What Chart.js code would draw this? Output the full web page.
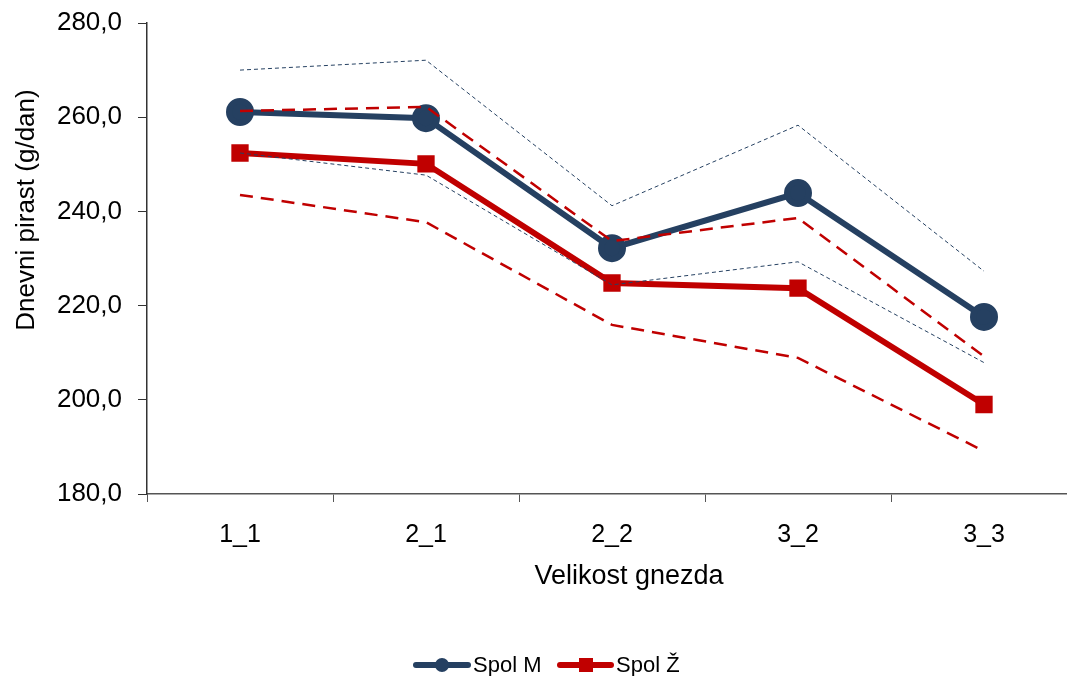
<!DOCTYPE html>
<html>
<head>
<meta charset="utf-8">
<script src="https://cdn.jsdelivr.net/npm/chart.js@4/dist/chart.umd.min.js"></script>
<style>
  html, body { margin: 0; padding: 0; background: #fff; overflow: hidden; }
  .wrap { width: 1067px; height: 676px; overflow: hidden; }
</style>
</head>
<body>
<div class="wrap">
  <canvas id="pirast" width="1080" height="676"></canvas>
</div>

<script>
// kategorije in vrednosti (odčitano s slike)
var categories = ["1_1", "2_1", "2_2", "3_2", "3_3"];
var spolM      = [261.1, 259.8, 232.2, 243.9, 217.6];
var spolMUpper = [270.0, 272.1, 241.2, 258.3, 227.3];
var spolMLower = [252.4, 247.7, 224.4, 229.3, 207.9];
var spolZ      = [252.4, 250.1, 224.8, 223.7, 199.0];
var spolZUpper = [261.3, 262.2, 233.7, 238.6, 209.2];
var spolZLower = [243.5, 237.7, 215.9, 208.9, 189.1];
var yTicks = [180, 200, 220, 240, 260, 280];

var navy = "#254061";
var red = "#C00000";
var font = "'Liberation Sans', Arial, sans-serif";

// naslovi osi in legenda
var extras = {
  id: 'extras',
  afterDraw: function(chart) {
    var c = chart.ctx;
    c.save();
    c.fillStyle = "#000";
    c.textAlign = "center";
    c.textBaseline = "middle";
    c.font = "27px " + font;
    c.fillText("Velikost gnezda", 629, 577);
    c.font = "26px " + font;
    c.translate(27, 210);
    c.rotate(-Math.PI / 2);
    c.fillText("Dnevni pirast (g/dan)", 0, 0);
    c.restore();

    c.save();
    c.font = "22px " + font;
    c.textBaseline = "middle";
    var y = 665;
    // Spol M
    c.strokeStyle = navy; c.lineWidth = 6; c.lineCap = "round";
    c.beginPath(); c.moveTo(416, y); c.lineTo(468, y); c.stroke();
    c.fillStyle = navy;
    c.beginPath(); c.arc(442, y, 7, 0, Math.PI * 2); c.fill();
    c.fillStyle = "#000";
    c.fillText("Spol M", 473, y + 1);
    // Spol Ž
    c.strokeStyle = red;
    c.beginPath(); c.moveTo(560, y); c.lineTo(611, y); c.stroke();
    c.fillStyle = red;
    c.fillRect(579, y - 7, 14, 14);
    c.fillStyle = "#000";
    c.fillText("Spol Ž", 616, y + 1);
    c.restore();
  }
};

function bandLine(data, color, width, dash) {
  return {
    data: data,
    borderColor: color,
    borderWidth: width,
    borderDash: dash,
    pointRadius: 0,
    fill: false,
    tension: 0
  };
}

var ctx = document.getElementById("pirast");
var chart = new Chart(ctx, {
  type: 'line',
  data: {
    labels: categories,
    datasets: [
      bandLine(spolMUpper, navy, 1, [4, 3]),
      bandLine(spolMLower, navy, 1, [4, 3]),
      bandLine(spolZUpper, red, 2.5, [13, 8]),
      bandLine(spolZLower, red, 2.5, [13, 8]),
      {
        label: "Spol Ž",
        data: spolZ,
        borderColor: red,
        backgroundColor: red,
        borderWidth: 6,
        pointStyle: 'rect',
        pointRadius: 8,
        pointHoverRadius: 8,
        tension: 0
      },
      {
        label: "Spol M",
        data: spolM,
        borderColor: navy,
        backgroundColor: navy,
        borderWidth: 6,
        pointStyle: 'circle',
        pointRadius: 11,
        pointHoverRadius: 11,
        tension: 0
      }
    ]
  },
  options: {
    responsive: false,
    animation: false,
    layout: { autoPadding: false, padding: { top: 23, right: 3, bottom: 0, left: 0 } },
    plugins: {
      legend: { display: false },
      tooltip: { enabled: false }
    },
    scales: {
      x: {
        offset: true,
        grid: { drawOnChartArea: false, tickLength: 8, color: "#555", offset: true },
        border: { color: "#555", width: 1.5 },
        ticks: { color: "#000", font: { family: font, size: 25 }, padding: 18, maxRotation: 0 },
        afterFit: function(scale) {
          scale.height = 676 - 494;
          scale.paddingLeft = 0;
          scale.paddingRight = 0;
        }
      },
      y: {
        min: 180,
        max: 280,
        afterBuildTicks: function(scale) {
          scale.ticks = yTicks.map(function(v) { return { value: v }; });
        },
        grid: { drawOnChartArea: false, tickLength: 9, color: "#333" },
        border: { color: "#333", width: 1.5 },
        ticks: {
          color: "#000",
          font: { family: font, size: 26 },
          padding: 16,
          callback: function(v) { return v.toFixed(1).replace(".", ","); }
        },
        afterFit: function(scale) {
          scale.width = 147;
          scale.paddingTop = 0;
          scale.paddingBottom = 0;
        }
      }
    }
  },
  plugins: [extras]
});
</script>
</body>
</html>
